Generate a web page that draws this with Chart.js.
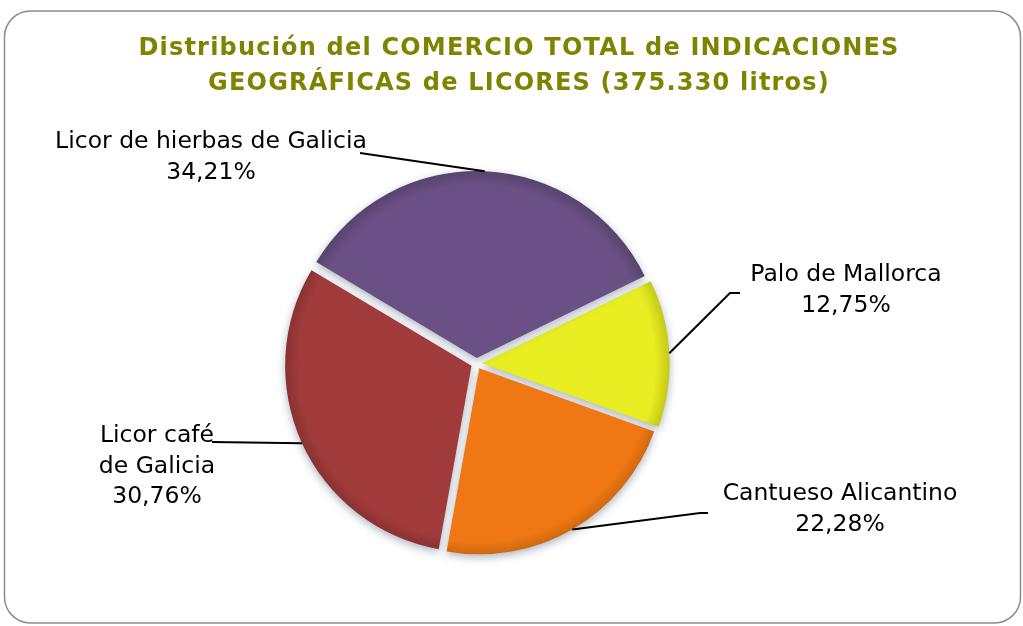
<!DOCTYPE html>
<html>
<head>
<meta charset="utf-8">
<script src="https://cdn.jsdelivr.net/npm/chart.js@4/dist/chart.umd.min.js"></script>
<style>
  body { margin: 0; background: #fff; }
  canvas { display: block; }
</style>
</head>
<body>
<canvas id="myChart" width="1023" height="626"></canvas>
<script>
// data
const titleLines = ['Distribución del COMERCIO TOTAL de INDICACIONES', 'GEOGRÁFICAS de LICORES (375.330 litros)'];
const names = ['Palo de Mallorca', 'Cantueso Alicantino', 'Licor café\nde Galicia', 'Licor de hierbas de Galicia'];
const values = [12.75, 22.28, 30.76, 34.21];
const colors = ['#e8ee22', '#f07814', '#a13b3b', '#6a5084'];
const edgeColors = ['#c4c815', '#cc660e', '#863030', '#56426c'];

// label layout (centre x, first baseline y) and leader start points
const labelPos = [[846, 281], [840, 500], [157, 442], [211, 148]];
const leaderPts = [[[740, 293], [730, 293]], [[708, 513], [700, 513]], [[212, 442]], [[360, 153]]];

const ctx = document.getElementById('myChart').getContext('2d');

function sliceFill(context) {
    const i = context.dataIndex;
    const area = context.chart.chartArea;
    if (!area) return colors[i];
    const cx = (area.left + area.right) / 2;
    const cy = (area.top + area.bottom) / 2;
    const g = context.chart.ctx.createRadialGradient(cx, cy, 0, cx, cy, 188);
    g.addColorStop(0, colors[i]);
    g.addColorStop(0.92, colors[i]);
    g.addColorStop(1, edgeColors[i]);
    return g;
}

const decor = {
    id: 'decor',
    beforeDraw(chart) {
        const c = chart.ctx;
        c.save();
        c.strokeStyle = '#8c8c8c';
        c.lineWidth = 1.5;
        c.beginPath();
        c.roundRect(4.5, 11, 1016, 612, 26);
        c.stroke();
        // title
        c.fillStyle = '#7f8400';
        c.font = 'bold 24px "DejaVu Sans"';
        c.letterSpacing = '1.2px';
        c.textAlign = 'center';
        c.fillText(titleLines[0], 519, 55);
        c.fillText(titleLines[1], 519, 90);
        c.restore();
    },
    beforeDatasetsDraw(chart) {
        const c = chart.ctx;
        c.save();
        c.shadowColor = 'rgba(70,85,110,0.45)';
        c.shadowBlur = 9;
        c.shadowOffsetX = 0;
        c.shadowOffsetY = 3;
    },
    afterDatasetsDraw(chart) {
        const c = chart.ctx;
        c.restore();
        const meta = chart.getDatasetMeta(0);
        c.save();
        meta.data.forEach((arc, i) => {
            const p = arc.getProps(['x', 'y', 'startAngle', 'endAngle', 'outerRadius', 'circumference']);
            const mid = (p.startAngle + p.endAngle) / 2;
            const off = (arc.options.offset || 0) / 4;
            const fix = 1 - Math.sin(Math.min(Math.PI, p.circumference));
            const shift = off + off * fix;
            const ex = p.x + Math.cos(mid) * (p.outerRadius + shift);
            const ey = p.y + Math.sin(mid) * (p.outerRadius + shift);
            // leader line
            c.strokeStyle = '#000';
            c.lineWidth = 2;
            c.beginPath();
            leaderPts[i].forEach((pt, k) => k === 0 ? c.moveTo(pt[0], pt[1]) : c.lineTo(pt[0], pt[1]));
            c.lineTo(ex, ey);
            c.stroke();
            // label text
            const lines = names[i].split('\n');
            lines.push(values[i].toFixed(2).replace('.', ',') + '%');
            c.fillStyle = '#000';
            c.font = '23.5px "DejaVu Sans"';
            c.textAlign = 'center';
            lines.forEach((t, k) => c.fillText(t, labelPos[i][0], labelPos[i][1] + k * 30.5));
        });
        c.restore();
    }
};

let myChart = new Chart(ctx, {
    type: 'pie',
    data: {
        labels: names,
        datasets: [{
            data: values,
            backgroundColor: sliceFill,
            borderWidth: 0,
            offset: 22
        }]
    },
    options: {
        responsive: false,
        animation: false,
        rotation: 64,
        radius: 186,
        layout: {
            padding: { top: 101, left: 0, right: 70, bottom: 0 }
        },
        plugins: {
            legend: { display: false },
            tooltip: { enabled: false },
            title: { display: false }
        }
    },
    plugins: [decor]
});
</script>
</body>
</html>
